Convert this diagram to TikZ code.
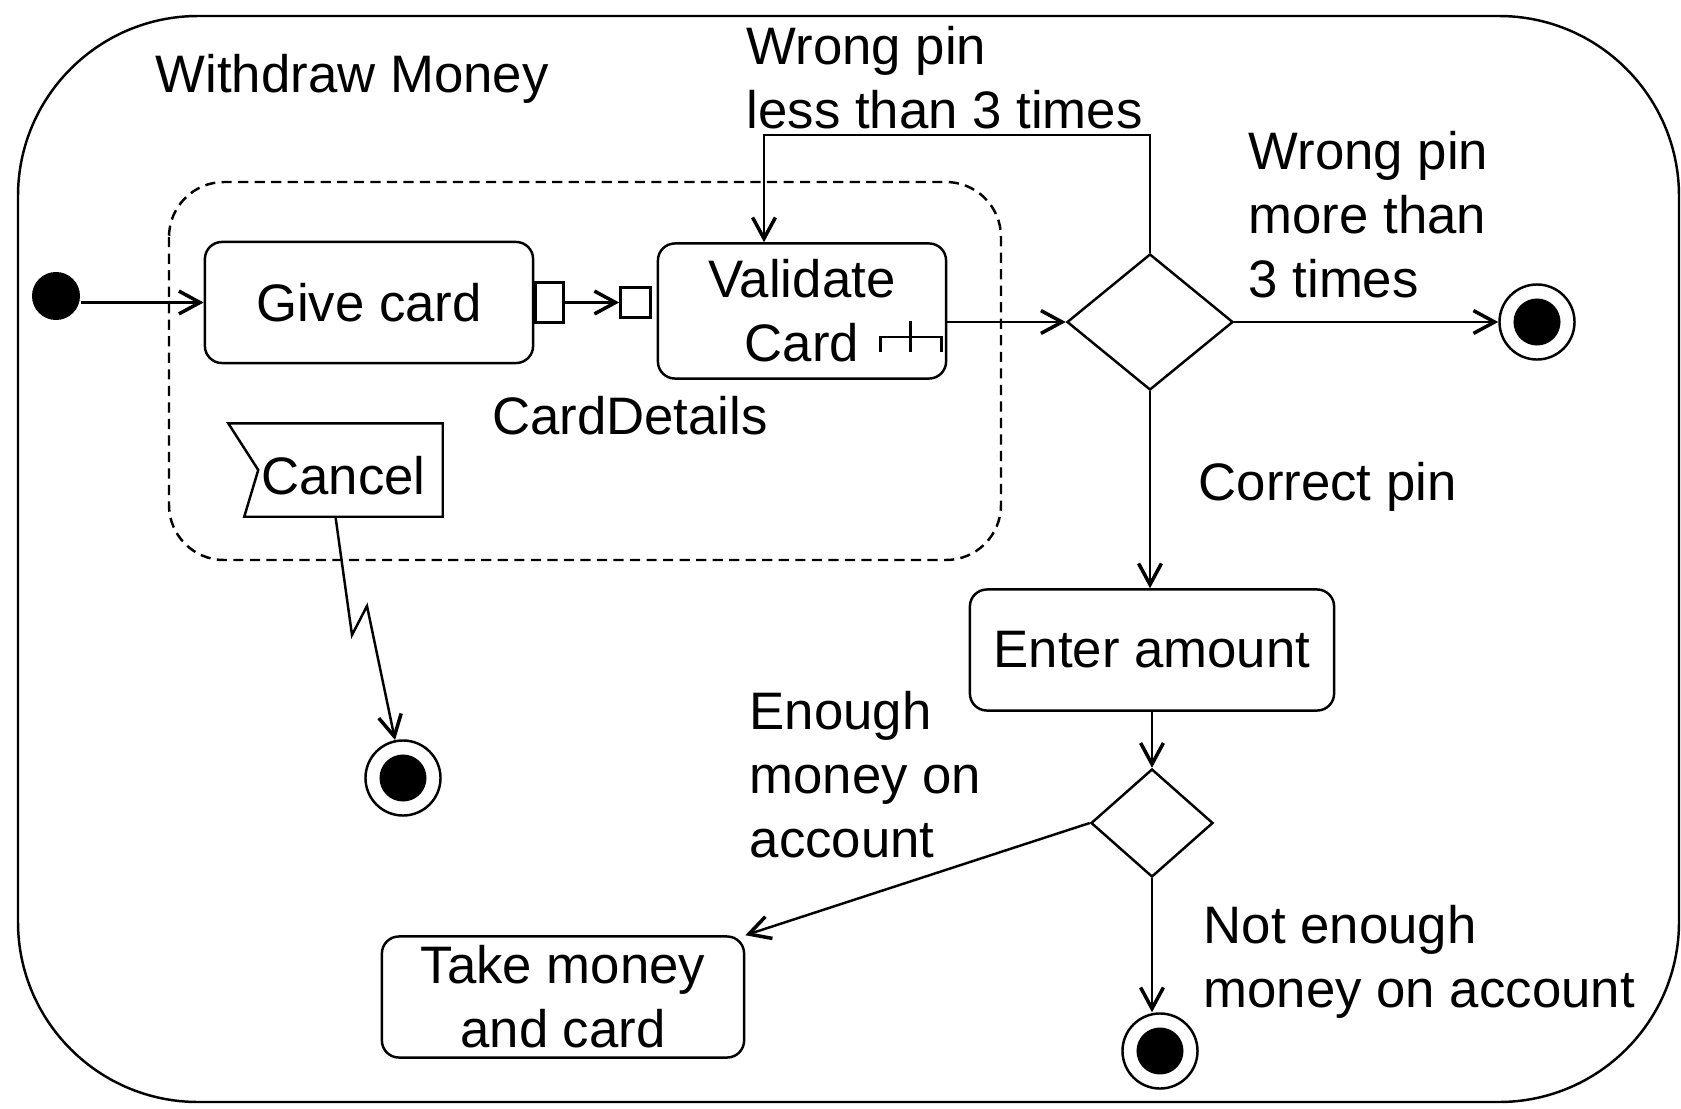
\documentclass[tikz,border=0pt]{standalone}
\usepackage{fontspec}
\setmainfont{Liberation Sans}
\usetikzlibrary{arrows.meta,positioning,shapes.geometric,calc}

\begin{document}
\begin{tikzpicture}[
		x=0.01cm, y=-0.01cm,
		font=\fontsize{15}{18.2}\selectfont,
		every node/.style={align=center},
		frame/.style={draw, line width=0.7pt, rounded corners=1.8cm},
		region/.style={draw, line width=0.7pt, rounded corners=0.55cm,
				dash pattern=on 2.9pt off 1.8pt},
		action/.style={rectangle, rounded corners=0.17cm, draw, line width=0.7pt,
				inner sep=0pt},
		pinbox/.style={rectangle, draw, line width=0.7pt, inner sep=0pt},
		decision/.style={diamond, draw, line width=0.7pt, inner sep=0pt},
		initial/.style={circle, fill, inner sep=0pt, minimum size=0.48cm},
		final/.style={circle, draw, line width=0.7pt, inner sep=0pt, minimum size=0.75cm,
				path picture={\fill (path picture bounding box.center) circle (0.235cm);}},
		accept/.style={inner sep=0pt, minimum width=2.13cm, minimum height=0.92cm,
				text height=0.48cm, text depth=0pt},
		guard/.style={inner sep=0pt, align=left, anchor=north west},
		flow/.style={-{Straight Barb[length=6pt,width=6.5pt,line width=1pt]}, line width=0.7pt},
		]

		\useasboundingbox (0,0) rectangle (1681,1109);
		\draw[frame] (18,16) rectangle (1679,1102);
		\node[anchor=base west, inner sep=0pt] (title) at (155,92) {Withdraw Money};

		\draw[region] (169,182) rectangle (1001,560);

		\node[initial] (init) at (56,296) {};
		\node[action, minimum width=3.28cm, minimum height=1.21cm] (gc) at (369,302.5) {Give card};
		\node[pinbox, minimum width=0.28cm, minimum height=0.4cm, right=0pt of gc] (gcout) {};
		\node[action, minimum width=2.88cm, minimum height=1.35cm] (vc) at (802,311) {Validate\\Card};
		\node[pinbox, minimum size=0.3cm, anchor=east] (vcin) at ([xshift=-0.05cm]vc.west |- gc.east) {};

		% rake on the calling action
		\begin{scope}[shift={(vc.south east)}, line width=0.7pt]
			\draw (-67,-28) -- (-67,-43) -- (-6,-43) -- (-6,-28);
			\draw (-37,-59) -- (-37,-28);
		\end{scope}

		\node[decision, minimum width=1.66cm, minimum height=1.36cm] (dec1) at (1150,322) {};
		\node[final] (fin1) at (1537,322) {};
		\node[action, minimum width=3.64cm, minimum height=1.21cm] (ea) at (1152,650) {Enter amount};
		\node[decision, minimum width=1.22cm, minimum height=1.08cm] (dec2) at (1152,823) {};
		\node[action, minimum width=3.62cm, minimum height=1.21cm] (tm) at (563,997) {Take money\\and card};
		\node[final] (fin3) at (1160,1051) {};

		\node[accept] (cancel) at (335.5,470) {\hspace{0.16cm}Cancel};
		\draw[line width=0.7pt] (cancel.north west) -- (cancel.north east) -- (cancel.south east)
		-- ([xshift=0.16cm]cancel.south west) -- ([xshift=0.3cm]cancel.west) -- cycle;
		\node[final] (fin2) at (403,778) {};

		\node[guard] (wless) at (746,26) {Wrong pin\\less than 3 times};
		\node[guard] (wmore) at (1248,131) {Wrong pin\\more than\\3 times};
		\node[inner sep=0pt, anchor=base] (cd) at (630,434) {CardDetails};
		\node[guard, anchor=base west] (cp) at (1198,500) {Correct pin};
		\node[guard] (enough) at (749,691) {Enough\\money on\\account};
		\node[guard] (notenough) at (1203,905) {Not enough\\money on account};

		\coordinate (loopturn) at (764,135);
		\coordinate (zigA) at (352,635);
		\coordinate (zigB) at (367,606);

		\draw[flow] (init.east |- gc.west) -- (gc.west);
		\draw[flow] (gcout) -- (vcin);
		\draw[flow] (vc.east |- dec1.west) -- (dec1.west);
		\draw[flow] (dec1.east) -- (fin1);
		\draw[flow] (dec1.north) |- (loopturn) -- (loopturn |- vc.north);
		\draw[flow] (dec1.south) -- (dec1.south |- ea.north);
		\draw[flow] (ea) -- (dec2);
		\draw[flow] (dec2.west) -- (tm.north east);
		\draw[flow] (dec2.south) -- (dec2.south |- fin3.north);
		\draw[flow] (cancel.south) -- (zigA) -- (zigB) -- (fin2);

	\end{tikzpicture}
\end{document}
